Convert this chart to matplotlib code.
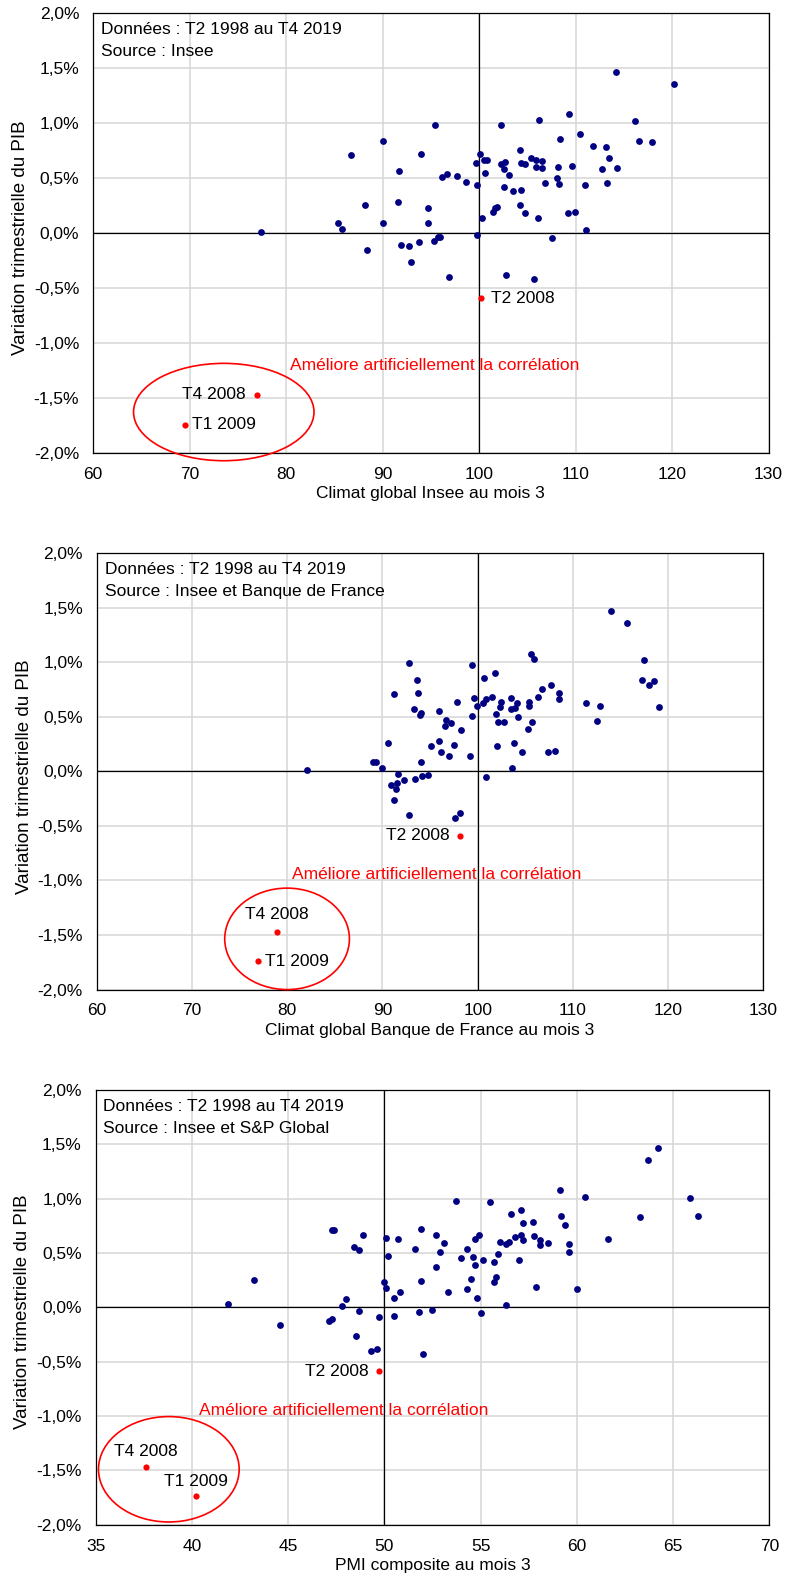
"""
Croissance trimestrielle du PIB contre trois indicateurs de climat des affaires
(Insee, Banque de France, PMI composite), T2 1998 - T4 2019.

Writes out.png.
"""

import matplotlib
matplotlib.use("Agg")
import matplotlib.pyplot as plt
from matplotlib.patches import Ellipse
from matplotlib.ticker import FuncFormatter

plt.rcParams["font.family"] = ["Liberation Sans", "DejaVu Sans"]

NAVY = "#000080"
RED = "#ff0000"
GRID = "#d6d6d6"
FS = 12.5

# ---- climat global Insee -------------------------------------------------
insee_x = [77.4, 86.7, 90.1, 95.4, 94.0, 91.7, 96.2, 96.7, 97.7, 98.7, 99.8, 99.7,
           100.1, 88.2, 91.6, 94.7, 94.7, 90.0, 85.4, 85.8, 88.4, 91.9, 92.7, 93.8,
           93.0, 95.3, 95.7, 96.0, 96.9, 99.8, 100.3,
           114.2, 120.2, 109.3, 106.2, 102.3, 116.2, 116.6, 117.9, 110.5, 108.4, 111.8,
           113.2, 113.5, 104.2, 100.5, 100.8, 100.6, 102.3, 102.7, 102.6, 103.1, 104.3,
           104.8, 105.4, 105.9, 106.5, 105.9, 106.5, 108.2, 109.6, 108.1, 108.3, 106.8,
           111.0, 112.7, 114.3, 113.3, 102.6, 103.5, 104.3, 104.2, 104.8, 106.1, 101.7,
           101.9, 101.4, 109.2, 109.9, 111.1, 107.6, 102.8, 105.7]
insee_y = [0.01, 0.71, 0.84, 0.98, 0.72, 0.57, 0.51, 0.54, 0.52, 0.47, 0.44, 0.64,
           0.72, 0.26, 0.28, 0.23, 0.09, 0.09, 0.09, 0.04, -0.15, -0.11, -0.12, -0.08,
           -0.26, -0.07, -0.03, -0.03, -0.40, -0.02, 0.14,
           1.47, 1.36, 1.08, 1.03, 0.98, 1.02, 0.84, 0.83, 0.90, 0.86, 0.79,
           0.78, 0.68, 0.76, 0.67, 0.67, 0.55, 0.63, 0.65, 0.58, 0.53, 0.64,
           0.63, 0.68, 0.67, 0.66, 0.60, 0.59, 0.60, 0.61, 0.50, 0.45, 0.46,
           0.44, 0.58, 0.59, 0.46, 0.42, 0.38, 0.39, 0.26, 0.18, 0.14, 0.23,
           0.24, 0.19, 0.18, 0.19, 0.03, -0.04, -0.38, -0.42]

# ---- climat global Banque de France --------------------------------------
bdf_x = [82.1, 92.8, 99.4, 93.6, 91.2, 93.7, 97.8, 99.6, 99.9, 93.3, 94.0, 93.9,
         95.9, 99.4, 96.7, 96.6, 97.2, 98.3, 90.6, 95.9, 97.5, 95.1, 96.1, 97.0,
         99.2, 89.0, 89.3, 94.1, 89.9, 91.6, 94.2, 94.8, 92.3, 93.4, 90.9, 91.5,
         91.4, 91.2, 92.8, 97.6, 98.1,
         114.0, 115.7, 105.6, 105.9, 117.5, 101.8, 100.7, 117.3, 118.5, 118.0, 119.1,
         107.7, 106.8, 108.5, 108.5, 106.3, 105.4, 105.4, 103.5, 104.1, 103.5, 103.9,
         102.5, 102.3, 101.5, 100.9, 100.6, 101.9, 104.2, 102.1, 102.8, 105.7, 105.3,
         111.4, 112.8, 112.5, 102.0, 103.8, 104.7, 107.4, 108.1, 103.6, 100.9]
bdf_y = [0.01, 0.99, 0.98, 0.84, 0.71, 0.72, 0.64, 0.67, 0.60, 0.57, 0.54, 0.52,
         0.55, 0.51, 0.47, 0.42, 0.44, 0.38, 0.26, 0.28, 0.24, 0.23, 0.18, 0.14,
         0.14, 0.09, 0.09, 0.09, 0.03, -0.02, -0.04, -0.03, -0.08, -0.07, -0.12, -0.11,
         -0.16, -0.26, -0.40, -0.43, -0.38,
         1.47, 1.36, 1.08, 1.03, 1.02, 0.90, 0.86, 0.84, 0.83, 0.79, 0.59,
         0.79, 0.76, 0.72, 0.66, 0.68, 0.64, 0.60, 0.67, 0.63, 0.57, 0.58,
         0.64, 0.59, 0.68, 0.66, 0.63, 0.53, 0.50, 0.45, 0.45, 0.45, 0.39,
         0.63, 0.60, 0.46, 0.23, 0.26, 0.18, 0.18, 0.19, 0.03, -0.05]

# ---- PMI composite --------------------------------------------------------
pmi_x = [41.9, 43.2, 44.6, 47.3, 47.4, 48.9, 48.4, 48.7, 50.1, 50.7, 50.2, 50.0,
         50.1, 48.0, 47.8, 48.7, 47.1, 47.3, 49.7, 50.5, 48.5, 49.3, 49.6, 52.0,
         50.5, 50.8, 51.9, 51.8, 52.5, 51.9, 52.7, 53.1, 52.9, 51.6, 52.7, 53.3,
         64.2, 63.7, 59.1, 60.4, 65.9, 66.3, 63.3, 53.7, 55.5, 56.6, 57.1, 57.2,
         57.7, 59.2, 59.4, 61.6, 54.7, 54.9, 54.3, 54.0, 54.6, 54.7, 55.1, 55.9,
         55.7, 56.0, 56.3, 56.5, 56.8, 57.1, 57.2, 57.8, 58.1, 58.1, 58.5, 59.6,
         59.6, 57.0, 54.5, 55.8, 55.7, 54.3, 54.8, 56.3, 55.0, 57.9, 60.0]
pmi_y = [0.03, 0.25, -0.16, 0.71, 0.71, 0.67, 0.56, 0.53, 0.64, 0.63, 0.47, 0.23,
         0.18, 0.08, 0.01, -0.03, -0.13, -0.11, -0.09, -0.08, -0.26, -0.40, -0.38, -0.43,
         0.09, 0.14, 0.24, -0.04, -0.02, 0.72, 0.67, 0.59, 0.51, 0.54, 0.37, 0.14,
         1.47, 1.36, 1.08, 1.02, 1.01, 0.84, 0.83, 0.98, 0.97, 0.86, 0.90, 0.78,
         0.79, 0.84, 0.76, 0.63, 0.63, 0.67, 0.54, 0.45, 0.46, 0.39, 0.44, 0.49,
         0.42, 0.60, 0.58, 0.60, 0.65, 0.67, 0.62, 0.66, 0.62, 0.57, 0.59, 0.58,
         0.51, 0.44, 0.26, 0.28, 0.23, 0.17, 0.09, 0.02, -0.05, 0.19, 0.17]

# crisis quarters: T2 2008, T4 2008, T1 2009
crisis_labels = ["T2 2008", "T4 2008", "T1 2009"]
crisis_gdp = [-0.59, -1.47, -1.74]
insee_crisis_x = [100.2, 77.0, 69.5]
bdf_crisis_x = [98.1, 78.9, 76.9]
pmi_crisis_x = [49.7, 37.6, 40.2]

NOTE = "Améliore artificiellement la corrélation"
PERIOD = "Données : T2 1998 au T4 2019"

PANELS = [
    dict(rect=[0.1185, 0.7131, 0.8605, 0.2785], x=insee_x, y=insee_y, cx=insee_crisis_x,
         xlim=(60, 130), xstep=10, xzero=100,
         xlabel="Climat global Insee au mois 3",
         source="Source : Insee",
         ellipse=(73.55, -1.625, 18.7, 0.885), note=(80.4, -1.2),
         # label offsets in points (dx, dy, ha)
         offsets=[(7, 0, "left"), (-8, 0, "right"), (5, 0, "left")]),
    dict(rect=[0.1234, 0.3737, 0.8489, 0.2761], x=bdf_x, y=bdf_y, cx=bdf_crisis_x,
         xlim=(60, 130), xstep=10, xzero=100,
         xlabel="Climat global Banque de France au mois 3",
         source="Source : Insee et Banque de France",
         ellipse=(79.98, -1.535, 13.1, 0.93), note=(80.5, -0.945),
         offsets=[(-7, 0, "right"), (0, 12.5, "center"), (5, 0, "left")]),
    dict(rect=[0.1219, 0.0350, 0.8581, 0.2751], x=pmi_x, y=pmi_y, cx=pmi_crisis_x,
         xlim=(35, 70), xstep=5, xzero=50,
         xlabel="PMI composite au mois 3",
         source="Source : Insee et S&P Global",
         ellipse=(38.8, -1.49, 7.31, 0.97), note=(40.39, -0.95),
         offsets=[(-7, 0, "right"), (0, 11, "center"), (0, 10.5, "center")]),
]


def pct(v, _pos):
    return f"{v:.1f}%".replace(".", ",")


def draw_panel(fig, p):
    ax = fig.add_axes(p["rect"])
    lo, hi = p["xlim"]
    ax.set_xlim(lo, hi)
    ax.set_ylim(-2.0, 2.0)
    ax.set_xticks(range(lo, hi + 1, p["xstep"]))
    ax.set_yticks([-2.0, -1.5, -1.0, -0.5, 0.0, 0.5, 1.0, 1.5, 2.0])
    ax.yaxis.set_major_formatter(FuncFormatter(pct))
    ax.tick_params(length=0, labelsize=FS, pad=10)
    ax.grid(color=GRID, linewidth=1.1)
    ax.set_axisbelow(True)
    for s in ax.spines.values():
        s.set_linewidth(0.9)
    ax.axhline(0, color="black", linewidth=0.9, zorder=1.5)
    ax.axvline(p["xzero"], color="black", linewidth=0.9, zorder=1.5)

    ax.scatter(p["x"], p["y"], s=24, color=NAVY, linewidths=0, zorder=3)
    ax.scatter(p["cx"], crisis_gdp, s=20, color=RED, linewidths=0, zorder=3)
    for lab, cx, cy, (dx, dy, ha) in zip(crisis_labels, p["cx"], crisis_gdp, p["offsets"]):
        ax.annotate(lab, (cx, cy), xytext=(dx, dy), textcoords="offset points",
                    ha=ha, va="center", fontsize=FS, color="black")

    ex, ey, ew, eh = p["ellipse"]
    ax.add_patch(Ellipse((ex, ey), ew, eh, fill=False, edgecolor=RED,
                         linewidth=1.2, clip_on=False, zorder=4))
    ax.text(*p["note"], NOTE, color=RED, fontsize=FS, ha="left", va="center")

    # period and source, one line each, top-left inside the frame
    for i, line in enumerate([PERIOD, p["source"]]):
        ax.annotate(line, (0, 1), xycoords="axes fraction", xytext=(5.5, -11.5 - 16 * i),
                    textcoords="offset points", ha="left", va="center", fontsize=FS)
    ax.set_xlabel(p["xlabel"], fontsize=FS, labelpad=3)
    ax.set_ylabel("Variation trimestrielle du PIB", fontsize=13.5, labelpad=3.5)
    ax.yaxis.label.set_y(0.489)
    return ax


def main():
    fig = plt.figure(figsize=(7.85, 15.8), dpi=100)
    for p in PANELS:
        draw_panel(fig, p)
    fig.savefig("out.png", dpi=100, facecolor="white")


if __name__ == "__main__":
    main()
